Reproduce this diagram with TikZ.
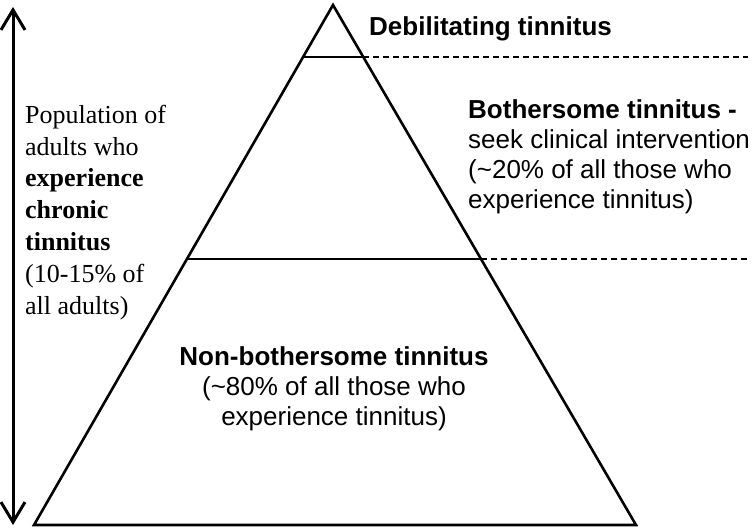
\documentclass[tikz,border=0pt]{standalone}
\usepackage{fontspec}
\setmainfont{Liberation Serif}
\newfontfamily\arialfont{Liberation Sans}
\usetikzlibrary{arrows.meta,calc}
\begin{document}
\begin{tikzpicture}[x=1pt,y=-1pt,
  edge/.style={line width=2.6pt, line join=miter},
  divider/.style={line width=2.2pt},
  dashline/.style={line width=1.6pt, dash pattern=on 6pt off 4pt},
  sanslabel/.style={font=\arialfont\fontsize{26}{30}\selectfont, inner sep=0pt, align=left, anchor=base west},
  seriflabel/.style={font=\fontsize{26}{31.8}\selectfont, inner sep=0pt, align=left, anchor=base west},
  barb/.style={line width=3pt, {Straight Barb[length=20pt,width=24pt]}-{Straight Barb[length=20pt,width=24pt]}}]
\useasboundingbox (0,0) rectangle (752,532);
% pyramid
\coordinate (apex) at (333,5);
\coordinate (bl) at (34,525);
\coordinate (br) at (636,525);
\draw[edge] (apex) -- (bl) -- (br) -- cycle;
\coordinate (d1l) at ($(apex)!0.1!(bl)$);
\coordinate (d1r) at ($(apex)!0.1!(br)$);
\coordinate (d2l) at ($(apex)!0.4885!(bl)$);
\coordinate (d2r) at ($(apex)!0.4885!(br)$);
\draw[divider] (d1l) -- (d1r);
\draw[divider] (d2l) -- (d2r);
\coordinate (e1) at (748,57);
\coordinate (e2) at (748,259);
\draw[dashline] (d1r) -- (e1 |- d1r);
\draw[dashline] (d2r) -- (e2 |- d2r);
% arrow
\coordinate (atop) at (13,7);
\coordinate (abot) at (13,525);
\draw[barb] (atop) -- (abot);
% labels (base anchor = baseline of the last line)
\node[sanslabel] (deb) at (369,36) {\bfseries Debilitating tinnitus};
\node[sanslabel] (both) at (468,208) {\bfseries Bothersome tinnitus -\\seek clinical intervention\\(\textasciitilde20\% of all those who\\experience tinnitus)};
\node[seriflabel] (pop) at (25,314) {Population of\\adults who\\\textbf{experience}\\\textbf{chronic}\\\textbf{tinnitus}\\(10-15\% of\\all adults)};
\node[sanslabel, align=center, anchor=base] (non) at (334,425) {\bfseries Non-bothersome tinnitus\\(\textasciitilde80\% of all those who\\experience tinnitus)};
\end{tikzpicture}
\end{document}
